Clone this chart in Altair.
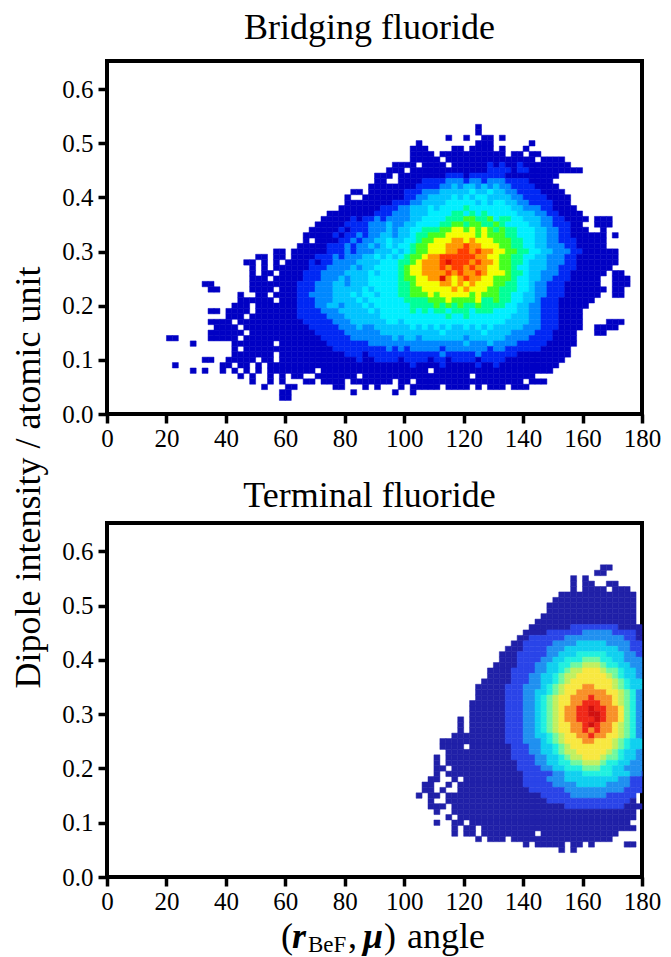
import altair as alt
import pandas as pd

SERIF = "Liberation Serif"

# Each row reads "first column : levels" ("." means an empty cell, 1-b are intensity levels,
# spaces only group the characters). Rows run from high dipole intensity to low.
bridging_top = 0.53
bridging_dy = 0.01
bridging_x0 = 20
bridging_dx = 2
bridging_rows = [
    "52:1",
    "52:1",
    "47:1..1..11.1",
    "42:1.........111......1",
    "41:111....11.1111.1...1",
    "41:1111.11111111111.11.11",
    "41:11111.111111111111111.1111",
    "38:1111.1111.11111121211211111111",
    "37:111.11111111111112222122111111111",
    "35:111. 111111112221222222111111111",
    "35:11.. 11112 222 3332332333 222 21111",
    "34:1111111 1222 2334 3443434 3322 221111",
    "31:11. 1111112 2233 3444 4454454 4332 2221111",
    "30:1.. 11111112 2334 4445 4545544 4433 2222111 1",
    "30:111 1111122 23344 4455 5554545 54433 2222111",
    "29:1111 1112223 34445 4555 5655555 55443 33221111",
    "27:111111 112223 334445 5556 6565655 55544 433221111",
    "26:1111121 22323 3334455 5566 6776675 66554 443322111 1.111",
    "25:11111222 23334 3344555 5667 7677667 65555 443322211 ..111",
    "24:111112122 23334 3445566 6778 8787876 76655 544332211 1..1",
    "23:1111121223 23344 3445667 7788 8887877 76655 544332211 1111.1",
    "23:1.11112232 33445 4455677 8889 9898887 77665 544332221 1111",
    "22:11111222323 34345 4556778 8899 9a99888 77665 544333221 1111",
    "18:11.1 111112223233 34445 4567788 899a a9a9988 77665 544333221 11111",
    "15:11.11.111 122232333 44545 4567789 9aaa aaa9988 77665 544333221 111111",
    "13:11.1.1.1 111212233334 44455 5667899 9aba aa9a998 77665 444333221 111111",
    "14:1.1.111 111222333343 44555 5678899 9a9a a9a9988 77655 444332221 11111",
    "14:1.11.11 112223333444 45455 5678899 99a9 a99a988 87665 443332211 1111.11",
    "14:111.111 112223334344 45555 5677889 9b98 9a99887 77655 443322211 111..111",
    "6:11...... 1111111 122233344344 45555 5667888 8998 9898887 76655 433222111 111..111",
    "7:11..... 1111.11 122233344444 54555 5667788 8889 8988877 66655 433222111 1111.11",
    "12:1.. 11.111 122333344454 55455 5667778 7888 8878777 66554 433222111 111..11",
    "12:1111 11.11 122233344445 45555 5566667 7787 7778667 66554 432221111 11",
    "11:111.1 11111 122233443444 54555 5556666 7676 7667666 65544 332221111 1",
    "7:11.1111.1 11111 122223334444 45455 5556565 6656 6656665 55544 332221111",
    "10:111.1111 111 122222333444 44455 5555555 5565 5655555 55444 332221111",
    "7:1111.1111 11111 112222233344 44445 5455555 5555 5555555 54444 33222111 1....111",
    "8:1111.1 1111111 111222223334 33444 4445454 5454 4545454 44443 33222111 1..1111",
    "7:111111.1 111111 111122222333 33344 4444444 4544 4444544 44333 32221111 ...11",
    "0:11.....11111.11 111111 111112222233 33333 4344344 4444 4344444 43333 22221111",
    "4:1......1111 111.11 111111222222 23333 3333333 3333 3433343 33322 22211111",
    "11:1.11 111111 111111122222 22223 2323333 3233 3333323 32222 2211111",
    "11:1111111.11 111111111222 12222 2222222 2322 2223222 22211 1111111",
    "6:11..1111 1.11.11 111111111112 11222 2122221 2212 2221222 21111 111111",
    "1:1.......11.11.1.1111 111111111111 11111 1112111 1211 1112112 11111 11111",
    "4:1.1..1.1.1.1.1111 1111.111111111111111111.11111111111111111111",
    "12:1.1..1.1.11..1111111.111111111111111111.1111111111",
    "14:1..1.1...11.1111.1111111.11.111111111111111111.111",
    "16:1...11......11...1.1...1.11111.1111.1.111.111",
    "19:11..........1......1..1",
    "19:11",
]

terminal_top = 0.57
terminal_dy = 0.01
terminal_x0 = 104
terminal_dx = 2
terminal_rows = [
    "31:11",
    "30:11",
    "26:1.1",
    "26:1.11..11",
    "26:1.1111.111",
    "24:1111111111111",
    "23:11111111111111",
    "22:111111111111111",
    "22:111111111111111",
    "21:1111111111111111",
    "20:11111111111111111",
    "19:1111111 22222222 1111",
    "18:1111 2222 22 33333 2222 1",
    "17:11 222222 3333333333 22 1",
    "16:11 22222 3333 44444 3333 22",
    "15:111 2222 333 444444444 33 22",
    "14:111 22222 33 444 55555 444 33 2",
    "14:111 2222 33 44 555 666 55 44 333",
    "13:1111 222 33 44 55 66 777 6 55 44 33",
    "12:1111 2222 33 44 5 6 77 888 7 66 5 44 3",
    "12:1111 222 33 44 5 6 77 88888 7 6 5 44 3",
    "11:11111 222 33 44 5 6 7 8888888 7 6 5 44",
    "10:11111 222 333 4 5 6 7 888 99 888 7 6 5 44",
    "10:11111 222 33 44 5 6 7 88 99999 88 7 6 5 3",
    "10:11111 222 33 4 5 6 7 88 99 9a9 99 8 7 6 5 3",
    "9:111111 222 33 4 5 6 7 88 99 aaa 99 8 7 6 5 3",
    "9:111111 222 33 4 5 6 7 8 99 aabaa 99 8 6 5 3",
    "9:111111 222 33 4 5 6 7 8 99 aabba 99 8 6 5 3",
    "7:1.111111 222 33 4 5 6 7 8 99 aaaba 99 8 6 5 3",
    "7:1.111111 222 33 4 5 6 7 88 99 aba 99 8 7 6 5 3",
    "7:1.111111 222 33 4 5 6 7 88 99 a9a 99 8 7 6 5 3",
    "6:111111111 222 33 44 5 6 7 88 99a99 88 7 6 5 3",
    "4:11111111111 222 333 4 5 6 7 888 99 888 7 6 5 44",
    "4:1111.1111111 222 33 44 5 6 7 8888888 7 6 5 44",
    "5:11111111111 222 33 44 5 6 77 88888 7 6 5 44 3",
    "3:1.1 1111111111 2222 33 44 5 6 77 888 7 66 5 44 3",
    "3:1.1 11111111111 222 33 44 55 66 777 6 55 44 33",
    "3:11.111 11111111 2222 33 44 555 666 55 44 333",
    "3:1.11111 11111111 22222 33 444 55555 444 33 2",
    "2:11..1.1 111111111 2222 333 444444444 33 22",
    "1:11..1.11 111111111 22222 3333 44444 3333 22",
    "1:11.1..11 1111111111 222222 3333333333 222",
    "0:1.11.111 1111111111111 22222 333333 22222",
    "2:1..111 11111111111111 22222222222222 1",
    "2:111.111 1111111111111111 2222222222 111",
    "3:1..111 1111111111111111111111111111",
    "5:1.11 1111111111111111111111111111",
    "3:1..11. 111111111111111111111111111",
    "6:1.1 1.11111111111111111111111111",
    "6:1.1 1.111111111.1111111111111",
    "10:1.111.1 1111111111111111",
    "18:1.11111.11.1.....11",
    "24:1.1",
]

levels = ["1", "2", "3", "4", "5", "6", "7", "8", "9", "a", "b"]
bridging_colors = ["#0000c4", "#0028f4", "#0088ff", "#00c4ff", "#00eeff", "#00ff98",
                   "#44ff20", "#f4ff00", "#ff9800", "#ff3c00", "#e01000"]
terminal_colors = ["#2020a8", "#2a44e8", "#2090f0", "#10d0f0", "#20f0e0", "#70f8a0",
                   "#c0f060", "#f8e840", "#f89028", "#f02818", "#d01010"]

x_ticks = list(range(0, 181, 20))
y_ticks = [0.0, 0.1, 0.2, 0.3, 0.4, 0.5, 0.6]
x_domain = [0, 180]
y_domain = [0, 0.652]


def cells(rows, top, dy, x0, dx):
    out = []
    for r, row in enumerate(rows):
        start, text = row.replace(" ", "").split(":")
        for k, c in enumerate(text):
            if c == ".":
                continue
            xa = x0 + (int(start) + k) * dx
            yc = top - r * dy
            out.append(dict(x=xa, x2=min(xa + dx, 180), y=yc - dy / 2, y2=yc + dy / 2, level=c))
    return pd.DataFrame(out)


def panel(df, colors, title, height, offset, extra=None, y_title=None):
    color = alt.Scale(domain=levels, range=colors)
    y_kwargs = dict(titleFont=SERIF, titleFontSize=36, titleFontWeight="normal", titleColor="black",
                    titleX=-60, titleY=416, titleAngle=270) if y_title else {}
    rects = alt.Chart(df).mark_rect(strokeWidth=0.5).encode(
        x=alt.X("x:Q", scale=alt.Scale(domain=x_domain, nice=False),
                axis=alt.Axis(values=x_ticks, title=None, labelFlush=False, labelPadding=3)),
        x2="x2:Q",
        y=alt.Y("y:Q", scale=alt.Scale(domain=y_domain, nice=False),
                axis=alt.Axis(values=y_ticks, format=".1f", title=y_title, labelPadding=5, **y_kwargs)),
        y2="y2:Q",
        color=alt.Color("level:N", scale=color, legend=None),
        stroke=alt.Stroke("level:N", scale=color, legend=None),
    )
    chart = alt.layer(rects, *extra) if extra else rects
    return chart.properties(
        width=535, height=height,
        title=alt.TitleParams(title, font=SERIF, fontSize=36, fontWeight="normal", color="black",
                              anchor="middle", dx=-5, offset=offset),
    )


def piece(text, px, py=425, size=36, weight="normal", style="normal"):
    return alt.Chart(alt.Data(values=[{}])).mark_text(
        font=SERIF, fontSize=size, fontWeight=weight, fontStyle=style, align="left",
        baseline="alphabetic", color="black",
    ).encode(x=alt.value(px), y=alt.value(py), text=alt.value(text))


x_label = [
    piece("(", 174),
    piece("r", 185, weight="bold", style="italic"),
    piece("BeF", 201, py=429, size=23),
    piece(",", 241),
    piece("μ", 256, weight="bold", style="italic"),
    piece(")", 277),
    piece("angle", 300),
]

top = panel(cells(bridging_rows, bridging_top, bridging_dy, bridging_x0, bridging_dx),
            bridging_colors, "Bridging fluoride", 353, 14, y_title="Dipole intensity / atomic unit")
bottom = panel(cells(terminal_rows, terminal_top, terminal_dy, terminal_x0, terminal_dx),
               terminal_colors, "Terminal fluoride", 354, 8, extra=x_label)

chart = (
    alt.vconcat(top, bottom, spacing=109, bounds="flush")
    .resolve_scale(color="independent", stroke="independent")
    .properties(padding={"left": 0, "top": 0, "right": 0, "bottom": 0})
    .configure_view(stroke="black", strokeWidth=4)
    .configure_axis(
        grid=False, domain=False, ticks=True, tickColor="black", tickWidth=3.5, tickSize=9,
        labelFont=SERIF, labelFontSize=25, labelColor="black", labelOverlap=False,
    )
)

chart.save("out.html", embed_options={"renderer": "svg", "actions": False})
